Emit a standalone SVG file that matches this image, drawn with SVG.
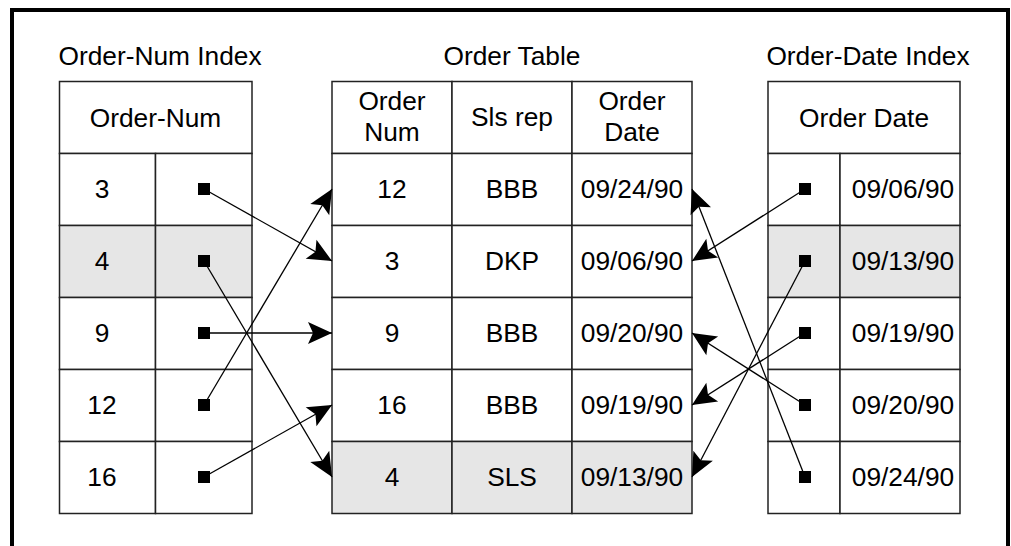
<svg xmlns="http://www.w3.org/2000/svg" width="1011" height="546" viewBox="0 0 1011 546">
<style>
text{font-family:"Liberation Sans",Arial,sans-serif;font-size:26.3px;fill:#000;text-anchor:middle}
.cell{fill:#fff;stroke:#222;stroke-width:1.5}
.hl{fill:#e6e6e6;stroke:#222;stroke-width:1.5}
.ptr{fill:#000}
.conn{stroke:#000;stroke-width:1.3;fill:none;marker-end:url(#ah)}
</style>
<defs>
<marker id="ah" markerUnits="userSpaceOnUse" viewBox="-26 -12 27 24" refX="0" refY="0" markerWidth="27" markerHeight="24" orient="auto">
<path d="M0,0 L-24,-11 L-19,0 L-24,11 Z" fill="#000"/>
</marker>
</defs>
<rect width="1011" height="546" fill="#fff"/>
<path d="M12,546 V10 H1008 V546" fill="none" stroke="#000" stroke-width="4"/>

<g id="order-num-index">
<text x="160" y="65">Order-Num Index</text>
<rect class="cell" x="59.5" y="81.5" width="192.5" height="72"/>
<text x="155.5" y="127">Order-Num</text>
<rect class="cell" x="59.5" y="153.5" width="96" height="72"/><rect class="cell" x="155.5" y="153.5" width="96.5" height="72"/>
<rect class="hl" x="59.5" y="225.5" width="96" height="72"/><rect class="hl" x="155.5" y="225.5" width="96.5" height="72"/>
<rect class="cell" x="59.5" y="297.5" width="96" height="72"/><rect class="cell" x="155.5" y="297.5" width="96.5" height="72"/>
<rect class="cell" x="59.5" y="369.5" width="96" height="72"/><rect class="cell" x="155.5" y="369.5" width="96.5" height="72"/>
<rect class="cell" x="59.5" y="441.5" width="96" height="72"/><rect class="cell" x="155.5" y="441.5" width="96.5" height="72"/>
<text x="102" y="198">3</text>
<text x="102" y="270">4</text>
<text x="102" y="342">9</text>
<text x="102" y="414">12</text>
<text x="102" y="486">16</text>
<rect class="ptr" x="198" y="183" width="12" height="12"/>
<rect class="ptr" x="198" y="255" width="12" height="12"/>
<rect class="ptr" x="198" y="327" width="12" height="12"/>
<rect class="ptr" x="198" y="399" width="12" height="12"/>
<rect class="ptr" x="198" y="471" width="12" height="12"/>
</g>

<g id="order-table">
<text x="512" y="65">Order Table</text>
<rect class="cell" x="332" y="81.5" width="120" height="72"/><rect class="cell" x="452" y="81.5" width="120" height="72"/><rect class="cell" x="572" y="81.5" width="120" height="72"/>
<text x="392" y="110">Order</text><text x="392" y="141">Num</text>
<text x="512" y="126">Sls rep</text>
<text x="632" y="110">Order</text><text x="632" y="141">Date</text>
<rect class="cell" x="332" y="153.5" width="120" height="72"/><rect class="cell" x="452" y="153.5" width="120" height="72"/><rect class="cell" x="572" y="153.5" width="120" height="72"/>
<rect class="cell" x="332" y="225.5" width="120" height="72"/><rect class="cell" x="452" y="225.5" width="120" height="72"/><rect class="cell" x="572" y="225.5" width="120" height="72"/>
<rect class="cell" x="332" y="297.5" width="120" height="72"/><rect class="cell" x="452" y="297.5" width="120" height="72"/><rect class="cell" x="572" y="297.5" width="120" height="72"/>
<rect class="cell" x="332" y="369.5" width="120" height="72"/><rect class="cell" x="452" y="369.5" width="120" height="72"/><rect class="cell" x="572" y="369.5" width="120" height="72"/>
<rect class="hl" x="332" y="441.5" width="120" height="72"/><rect class="hl" x="452" y="441.5" width="120" height="72"/><rect class="hl" x="572" y="441.5" width="120" height="72"/>
<text x="392" y="198">12</text><text x="512" y="198">BBB</text><text x="632" y="198">09/24/90</text>
<text x="392" y="270">3</text><text x="512" y="270">DKP</text><text x="632" y="270">09/06/90</text>
<text x="392" y="342">9</text><text x="512" y="342">BBB</text><text x="632" y="342">09/20/90</text>
<text x="392" y="414">16</text><text x="512" y="414">BBB</text><text x="632" y="414">09/19/90</text>
<text x="392" y="486">4</text><text x="512" y="486">SLS</text><text x="632" y="486">09/13/90</text>
</g>

<g id="order-date-index">
<text x="868" y="65">Order-Date Index</text>
<rect class="cell" x="768" y="81.5" width="192" height="72"/>
<text x="864" y="127">Order Date</text>
<rect class="cell" x="768" y="153.5" width="72" height="72"/><rect class="cell" x="840" y="153.5" width="120" height="72"/>
<rect class="hl" x="768" y="225.5" width="72" height="72"/><rect class="hl" x="840" y="225.5" width="120" height="72"/>
<rect class="cell" x="768" y="297.5" width="72" height="72"/><rect class="cell" x="840" y="297.5" width="120" height="72"/>
<rect class="cell" x="768" y="369.5" width="72" height="72"/><rect class="cell" x="840" y="369.5" width="120" height="72"/>
<rect class="cell" x="768" y="441.5" width="72" height="72"/><rect class="cell" x="840" y="441.5" width="120" height="72"/>
<text x="903" y="198">09/06/90</text>
<text x="903" y="270">09/13/90</text>
<text x="903" y="342">09/19/90</text>
<text x="903" y="414">09/20/90</text>
<text x="903" y="486">09/24/90</text>
<rect class="ptr" x="799" y="183" width="12" height="12"/>
<rect class="ptr" x="799" y="255" width="12" height="12"/>
<rect class="ptr" x="799" y="327" width="12" height="12"/>
<rect class="ptr" x="799" y="399" width="12" height="12"/>
<rect class="ptr" x="799" y="471" width="12" height="12"/>
</g>

<g id="connectors">
<line class="conn" x1="204" y1="189" x2="332" y2="261"/>
<line class="conn" x1="204" y1="261" x2="332" y2="477"/>
<line class="conn" x1="204" y1="333" x2="332" y2="333"/>
<line class="conn" x1="204" y1="405" x2="332" y2="189"/>
<line class="conn" x1="204" y1="477" x2="332" y2="405"/>
<line class="conn" x1="805" y1="189" x2="692" y2="261"/>
<line class="conn" x1="805" y1="261" x2="692" y2="477"/>
<line class="conn" x1="805" y1="333" x2="692" y2="405"/>
<line class="conn" x1="805" y1="405" x2="692" y2="333"/>
<line class="conn" x1="805" y1="477" x2="692" y2="189"/>
</g>
</svg>
